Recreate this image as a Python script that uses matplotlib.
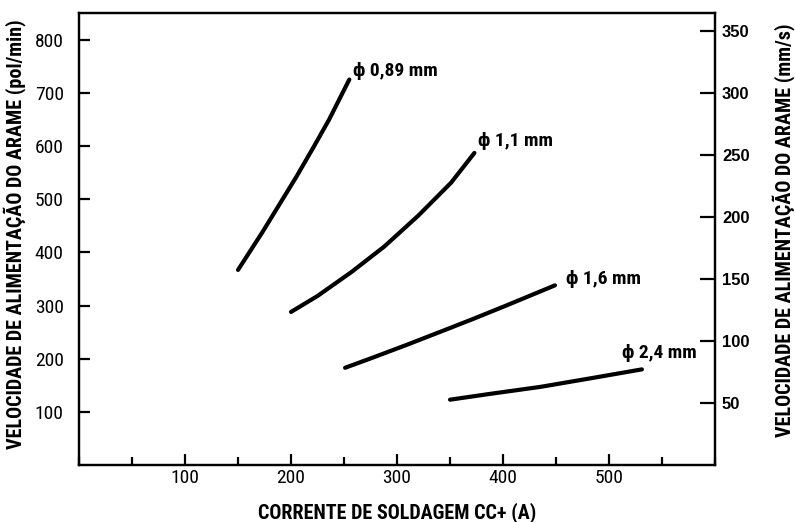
import numpy as np
import matplotlib.pyplot as plt
from matplotlib import font_manager
from matplotlib.ticker import MultipleLocator

# wire feed speed curves (current A, speed pol/min)
i_089 = [150, 173, 189, 205, 221, 236, 255]
v_089 = [367, 438, 490, 542, 597, 650, 725]

i_11 = [200, 225, 257, 288, 320, 351, 373]
v_11 = [288, 318, 363, 411, 469, 531, 587]

i_16 = [251, 277, 309, 340, 372, 403, 449]
v_16 = [183, 202, 226, 250, 275, 300, 338]

i_24 = [350, 388, 435, 482, 531]
v_24 = [123, 134, 147, 163, 180]

labels = ['\u03d5 0,89 mm', '\u03d5 1,1 mm', '\u03d5 1,6 mm', '\u03d5 2,4 mm']
label_pos = [(258, 741), (376, 610), (459, 349), (512, 210)]

# pol/min per mm/s as drawn on the right scale
k = 2.33

# pick a narrow face if one is installed
names = {f.name for f in font_manager.fontManager.ttflist}
narrow = None
for cand in ['Liberation Sans Narrow', 'Roboto Condensed', 'DejaVu Sans Condensed',
             'Open Sans Condensed']:
    if cand in names:
        narrow = cand
        break
if narrow is None:
    fam = ['DejaVu Sans']
    st = 'condensed'
    scale = 0.85
else:
    fam = [narrow, 'DejaVu Sans']
    st = 'normal'
    scale = 1.0

fig = plt.figure(figsize=(7.95, 5.22), dpi=100)
ax = fig.add_axes([0.0994, 0.109, 0.80, 0.866])

for xs, ys in [(i_089, v_089), (i_11, v_11), (i_16, v_16), (i_24, v_24)]:
    ax.plot(xs, ys, color='black', linewidth=3.0, solid_capstyle='round',
            solid_joinstyle='round')

for txt, (x, y) in zip(labels, label_pos):
    ax.text(x, y, txt, fontsize=14 * scale, fontweight='bold', family=fam,
            fontstretch=st, ha='left', va='center')

ax.set_xlim(0, 600)
ax.set_ylim(0, 850)
ax.set_xticks([100, 200, 300, 400, 500])
ax.xaxis.set_minor_locator(MultipleLocator(50))
ax.set_yticks([100, 200, 300, 400, 500, 600, 700, 800])

for s in ax.spines.values():
    s.set_linewidth(1.6)

ax.tick_params(axis='x', which='major', direction='in', length=8, width=1.6, pad=3)
ax.tick_params(axis='x', which='minor', direction='in', length=5.5, width=1.6)
ax.tick_params(axis='y', which='major', direction='in', length=8, width=1.6, pad=11)
for lab in ax.get_xticklabels() + ax.get_yticklabels():
    lab.set_family(fam)
    lab.set_stretch(st)
    lab.set_fontsize(14 * scale)

ax.set_xlabel('CORRENTE DE SOLDAGEM CC+ (A)', fontsize=14.5 * scale, fontweight='bold',
              family=fam, fontstretch=st)
ax.xaxis.set_label_coords(0.5, -0.082)
ax.set_ylabel('VELOCIDADE DE ALIMENTAÇÃO DO ARAME (pol/min)', fontsize=14.5 * scale,
              fontweight='bold', family=fam, fontstretch=st)
ax.yaxis.set_label_coords(-0.083, 0.51)

ax2 = ax.twinx()
ax2.set_ylim(0, 850 / k)
ax2.set_yticks([50, 100, 150, 200, 250, 300, 350])
ax2.tick_params(axis='y', direction='in', length=11, width=1.6, pad=5)
for lab in ax2.get_yticklabels():
    lab.set_family(['Liberation Sans', 'DejaVu Sans'])
    lab.set_fontweight('bold')
    lab.set_fontsize(12)
ax2.set_ylabel('VELOCIDADE DE ALIMENTAÇÃO DO ARAME (mm/s)', fontsize=14.5 * scale,
               fontweight='bold', family=fam, fontstretch=st)
ax2.yaxis.set_label_coords(1.09, 0.52)
for s in ax2.spines.values():
    s.set_linewidth(1.6)

fig.savefig('out.png', dpi=100)
